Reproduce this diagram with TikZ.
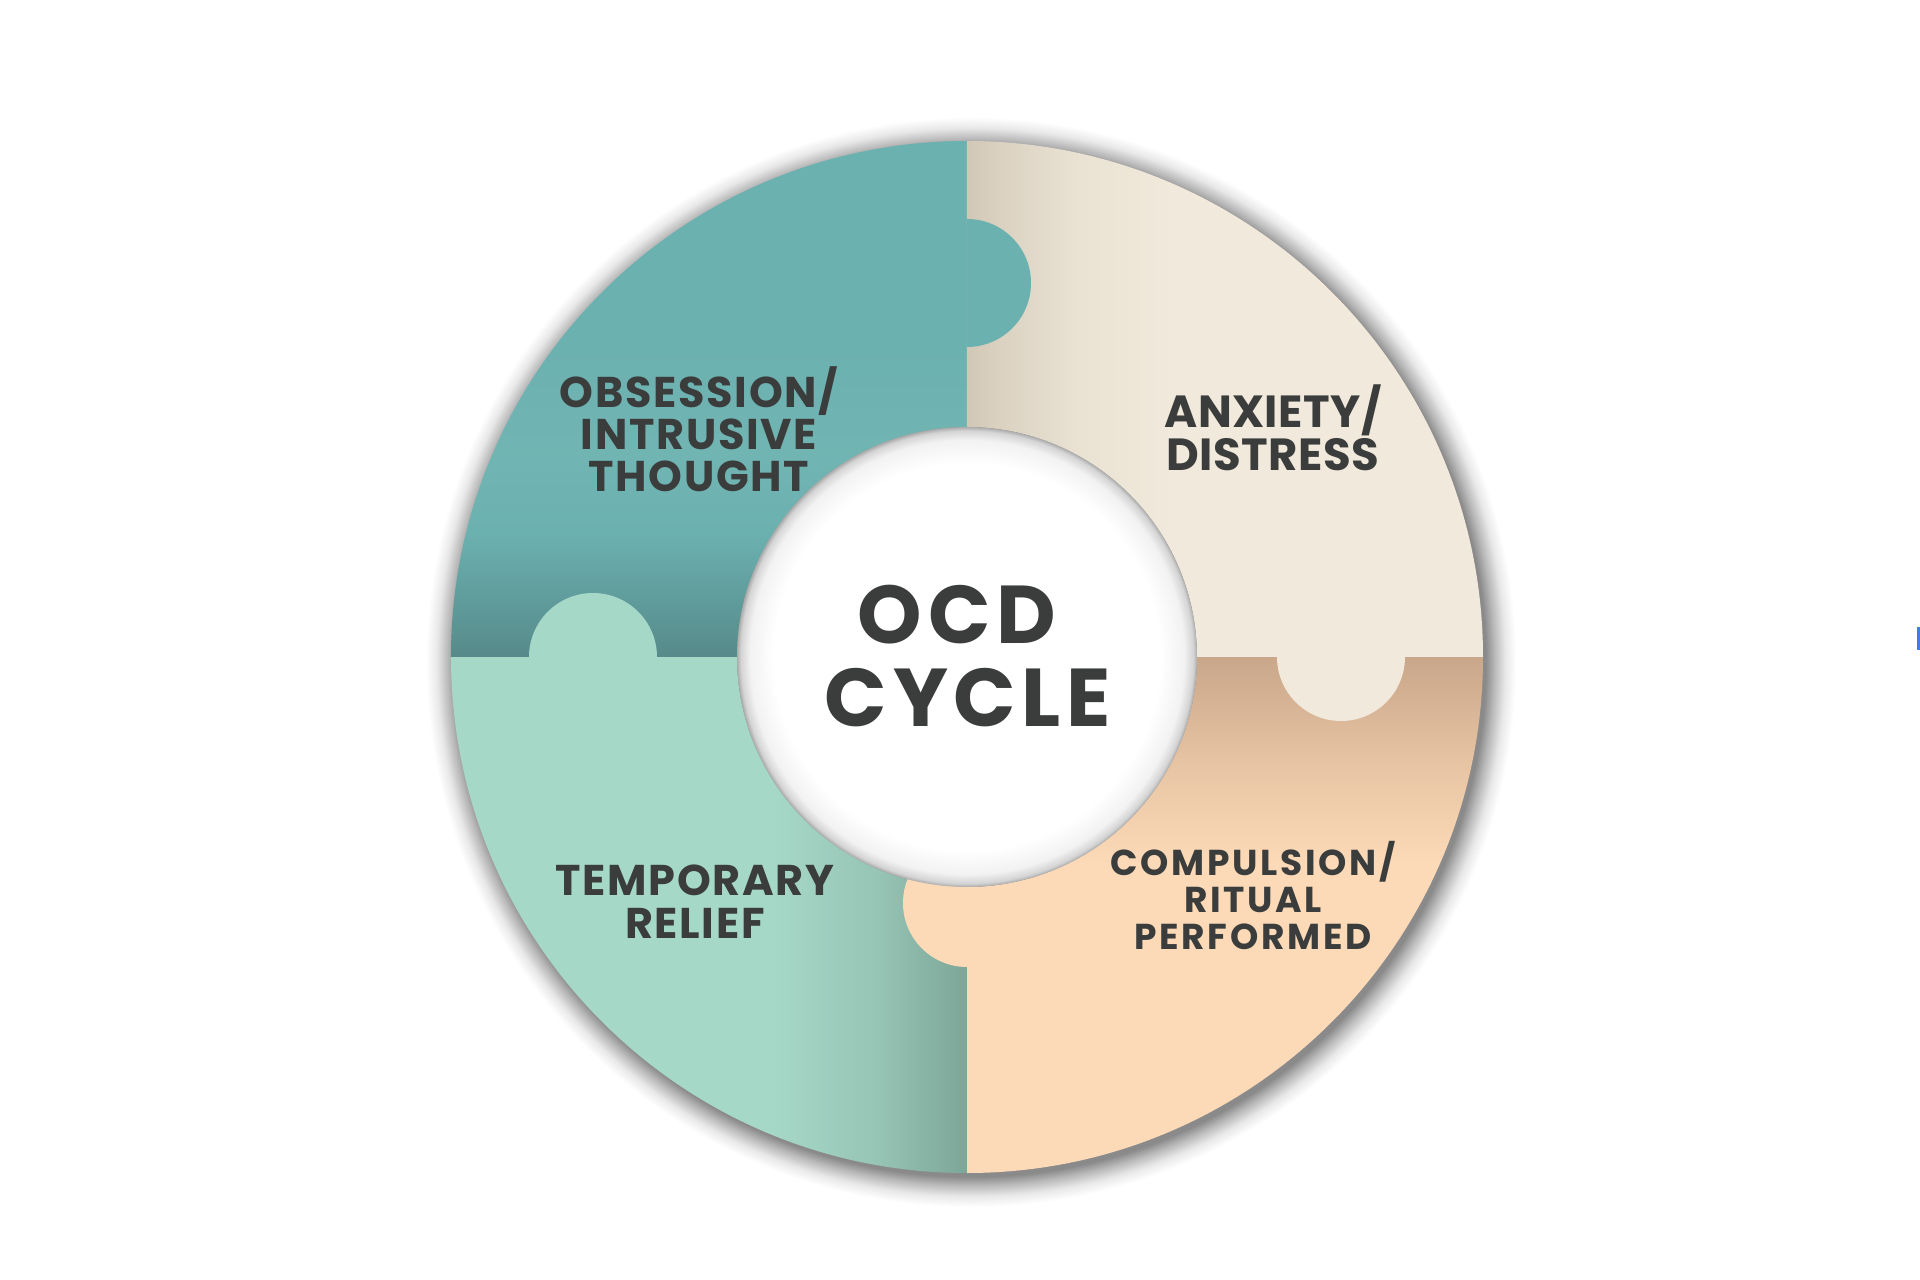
\documentclass[tikz,border=0pt]{standalone}
\usepackage{fontspec}
\newfontfamily\popA{Poppins}[LetterSpace=4]
\newfontfamily\popB{Poppins}[LetterSpace=7.5]
\newfontfamily\popC{Poppins}[LetterSpace=7]
\newfontfamily\popD{Poppins}[LetterSpace=1]
\definecolor{txt}{HTML}{3A3D3C}
\definecolor{tealA}{HTML}{6BB1B0}
\definecolor{tealL}{HTML}{71B5B3}
\definecolor{tealM}{HTML}{5F9A9A}
\definecolor{tealD}{HTML}{578A8A}
\definecolor{mintA}{HTML}{A6D8C8}
\definecolor{mintM}{HTML}{97C5B6}
\definecolor{mintD}{HTML}{7CA698}
\definecolor{beigeA}{HTML}{F1E9DB}
\definecolor{beigeM}{HTML}{EAE2D3}
\definecolor{beigeN}{HTML}{DAD1C1}
\definecolor{beigeD}{HTML}{D0C7B7}
\definecolor{peachA}{HTML}{FCDAB8}
\definecolor{peachM}{HTML}{E6C3A2}
\definecolor{peachN}{HTML}{D2AF91}
\definecolor{peachD}{HTML}{C9A78A}
\definecolor{holeF}{HTML}{F2F2F2}
\definecolor{holeE}{HTML}{D4D4D4}
\definecolor{holeD}{HTML}{ABABAB}
\definecolor{shD}{HTML}{8A8A8A}
\definecolor{shM}{HTML}{B8B8B8}
\definecolor{shL}{HTML}{E8E8E8}
\definecolor{bluemark}{HTML}{3D7FE6}
\pgfdeclareverticalshading{tealsh}{100bp}{color(0bp)=(tealD); color(25bp)=(tealD); color(30bp)=(tealM); color(37bp)=(tealA); color(45bp)=(tealL); color(55bp)=(tealA); color(100bp)=(tealA)}
\pgfdeclarehorizontalshading{mintsh}{100bp}{color(0bp)=(mintA); color(56bp)=(mintA); color(66bp)=(mintM); color(75bp)=(mintD); color(100bp)=(mintD)}
\pgfdeclarehorizontalshading{beigesh}{100bp}{color(0bp)=(beigeD); color(25bp)=(beigeD); color(28bp)=(beigeN); color(36bp)=(beigeM); color(45bp)=(beigeA); color(100bp)=(beigeA)}
\pgfdeclareverticalshading{peachsh}{100bp}{color(0bp)=(peachA); color(55bp)=(peachA); color(65bp)=(peachM); color(72bp)=(peachN); color(75bp)=(peachD); color(100bp)=(peachD)}
\pgfdeclareradialshading{holesh}{\pgfpoint{0bp}{0bp}}{color(0bp)=(white); color(21bp)=(white); color(23.6bp)=(holeF); color(24.6bp)=(holeE); color(25bp)=(holeD); color(50bp)=(holeD)}
\pgfdeclareradialshading{shadowsh}{\pgfpoint{0bp}{0bp}}{color(0bp)=(shD); color(23.6bp)=(shD); color(24bp)=(shM); color(24.5bp)=(shL); color(25bp)=(white); color(50bp)=(white)}
\tikzset{
  lbl/.style={text=txt, align=center, inner sep=0pt},
}
\begin{document}
\begin{tikzpicture}[x=1pt,y=1pt]
\useasboundingbox (-967,-623) rectangle (953,657);
\fill[white] (-967,-623) rectangle (953,657);
% drop shadow
\shade[shading=shadowsh] (4,-5) circle[radius=545pt];
% quarters
\shade[shading=tealsh] (-516,0) -- (-230,0) arc[start angle=180,end angle=90,radius=230pt] -- (0,516) arc[start angle=90,end angle=180,radius=516pt] -- cycle;
\shade[shading=beigesh] (0,516) -- (0,230) arc[start angle=90,end angle=0,radius=230pt] -- (516,0) arc[start angle=0,end angle=90,radius=516pt] -- cycle;
\shade[shading=peachsh] (516,0) -- (230,0) arc[start angle=0,end angle=-90,radius=230pt] -- (0,-516) arc[start angle=-90,end angle=0,radius=516pt] -- cycle;
\shade[shading=mintsh] (0,-516) -- (0,-230) arc[start angle=-90,end angle=-180,radius=230pt] -- (-516,0) arc[start angle=180,end angle=270,radius=516pt] -- cycle;
% knobs
\fill[tealA] (0,310) arc[start angle=-90,end angle=90,radius=64pt] -- cycle;
\fill[beigeA] (310,0) arc[start angle=180,end angle=360,radius=64pt] -- cycle;
\fill[peachA] (0,-310) arc[start angle=-90,end angle=-270,radius=64pt] -- cycle;
\fill[mintA] (-438,0) arc[start angle=180,end angle=0,radius=64pt] -- cycle;
% hole
\shade[shading=holesh] (0,0) circle[radius=230pt];
% labels
\node[lbl, font=\popC\bfseries\fontsize{82}{83}\selectfont] (ocd) at (1,1) {OCD\kern22pt\\CYCLE};
\node[lbl, font=\popA\bfseries\fontsize{43}{42}\selectfont] (obs) at (-268,228) {OBSESSION/\\INTRUSIVE\\THOUGHT};
\node[lbl, font=\popD\bfseries\fontsize{45}{43}\selectfont] (anx) at (306,229) {ANXIETY/\\DISTRESS};
\node[lbl, font=\popB\bfseries\fontsize{36}{37}\selectfont] (comp) at (286,-238.5) {COMPULSION/\\RITUAL\\PERFORMED};
\node[lbl, font=\popA\bfseries\fontsize{43}{43}\selectfont] (temp) at (-272,-244.5) {TEMPORARY\\RELIEF};
% edge mark
\fill[bluemark] (950,30) rectangle (953,7);
\end{tikzpicture}
\end{document}
